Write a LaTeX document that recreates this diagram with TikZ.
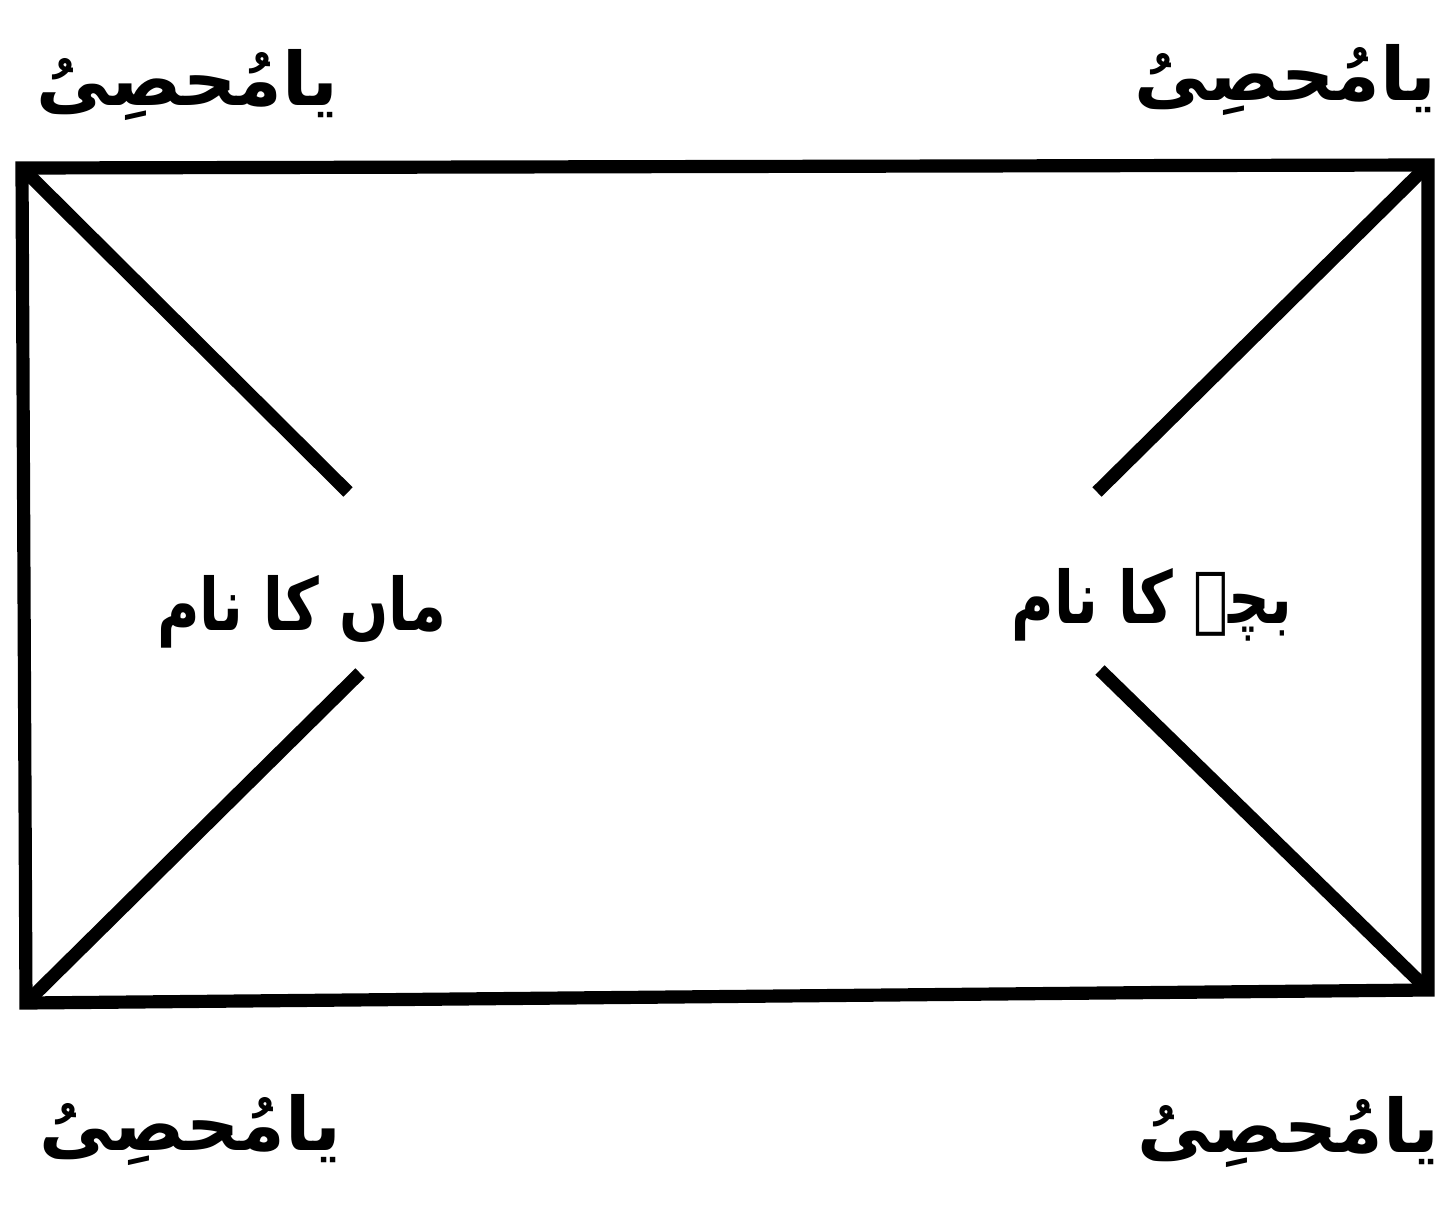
\documentclass[tikz,border=0pt]{standalone}
\usepackage{fontspec}
\newfontfamily\urdufont[Script=Arabic]{DejaVu Sans}
\TeXXeTstate=1
\begin{document}
\begin{tikzpicture}[x=0.02cm,y=-0.02cm,
  frame/.style={line width=7.5pt,line cap=rect},
  urdu/.style={font=\urdufont\bfseries\fontsize{42}{52}\selectfont,inner sep=0pt},
  middle/.style={urdu,font=\urdufont\bfseries\fontsize{33}{40}\selectfont,yscale=1.25}]

\useasboundingbox (0,0) rectangle (1446,1207);

% Corners
\coordinate (tl) at (22,168);
\coordinate (tr) at (1428,165);
\coordinate (bl) at (26,1003);
\coordinate (br) at (1428,990);

% Frame
\draw[frame] (tl) -- (tr) -- (br) -- (bl) -- cycle;

% Diagonal ends
\coordinate (tlend) at (348,492);
\coordinate (blend) at (360,673);
\coordinate (trend) at (1097,492);
\coordinate (brend) at (1100,670);

% Diagonals
\draw[frame,line cap=butt] (tl) -- (tlend);
\draw[frame,line cap=butt] (bl) -- (blend);
\draw[frame,line cap=butt] (tr) -- (trend);
\draw[frame,line cap=butt] (br) -- (brend);

% Corner labels
\node[urdu] (tllabel) at (187,85) {\beginR یامُحصِیُ\endR};
\node[urdu] (trlabel) at (1285,80) {\beginR یامُحصِیُ\endR};
\node[urdu] (bllabel) at (190,1130) {\beginR یامُحصِیُ\endR};
\node[urdu] (brlabel) at (1288,1132) {\beginR یامُحصِیُ\endR};

% Middle labels
\node[middle] (mother) at (302,612) {\beginR ماں کا نام\endR};
\node[middle] (child) at (1152,605) {\beginR بچہ کا نام\endR};

\end{tikzpicture}
\end{document}
